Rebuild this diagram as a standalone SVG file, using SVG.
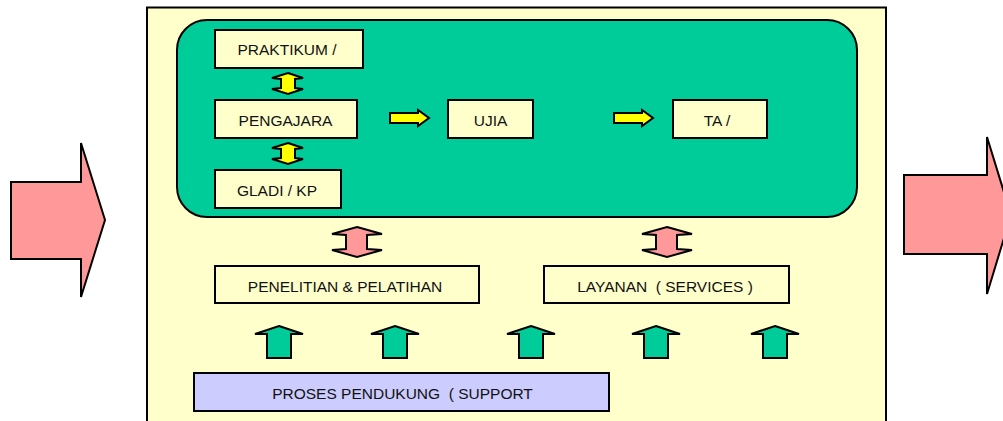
<svg xmlns="http://www.w3.org/2000/svg" width="1003" height="421" viewBox="0 0 1003 421">
<style>
.box{fill:#ffffcc;stroke:#000;stroke-width:2}
.t{font-family:"Liberation Sans",Arial,sans-serif;font-size:15.5px;fill:#111;text-anchor:middle}
.pink{fill:#ff9999;stroke:#000;stroke-width:2;stroke-linejoin:miter}
.yel{fill:#ffff00;stroke:#000;stroke-width:2}
.grn{fill:#00cc99;stroke:#000;stroke-width:2}
</style>
<rect width="1003" height="421" fill="#fff"/>
<g id="panel"><rect x="147" y="7.5" width="739" height="420" fill="#ffffcc" stroke="#000" stroke-width="2"/></g>
<g id="core"><rect x="177" y="20" width="680" height="197" rx="30" fill="#00cc99" stroke="#000" stroke-width="2"/></g>
<g id="input-arrow"><polygon class="pink" points="11,182 81,182 81,143 105,220 81,297 81,259 11,259"/></g>
<g id="output-arrow"><polygon class="pink" points="904,175 987,175 987,137 1011,215 987,294 987,254 904,254"/></g>
<g id="praktikum"><rect class="box" x="215" y="30" width="148" height="38"/><text class="t" x="287" y="55">PRAKTIKUM /</text></g>
<g id="pengajara"><rect class="box" x="215" y="100" width="142" height="38"/><text class="t" x="285.5" y="125.5">PENGAJARA</text></g>
<g id="gladi"><rect class="box" x="215" y="170" width="126" height="38"/><text class="t" x="277" y="195.5">GLADI / KP</text></g>
<g id="ujia"><rect class="box" x="448" y="100" width="85" height="38"/><text class="t" x="490.5" y="125.5">UJIA</text></g>
<g id="ta"><rect class="box" x="673" y="100" width="94" height="38"/><text class="t" x="717" y="125.5">TA /</text></g>
<g id="penelitian"><rect class="box" x="215" y="266" width="264" height="37"/><text class="t" x="345" y="291.5">PENELITIAN &amp; PELATIHAN</text></g>
<g id="layanan"><rect class="box" x="544" y="266" width="245" height="37"/><text class="t" x="665" y="291.5" xml:space="preserve">LAYANAN  ( SERVICES )</text></g>
<g id="proses"><rect x="194" y="373" width="415" height="38" fill="#ccccff" stroke="#000" stroke-width="2"/><text class="t" x="402.5" y="398.5" xml:space="preserve">PROSES PENDUKUNG  ( SUPPORT</text></g>
<g id="connectors">
<polygon class="yel" points="288,73 303,78 295,79 295,88 303,89 288,94 272,89 281,88 281,79 272,78"/>
<polygon class="yel" points="288,143 303,148 295,149 295,158 303,159 288,164 272,159 281,158 281,149 272,148"/>
<polygon class="yel" points="390,113 418,113 418,110 429,118 418,126 418,123 390,123"/>
<polygon class="yel" points="614,113 642,113 642,110 653,118 642,126 642,123 614,123"/>
<polygon class="pink" points="357,227 382,234 367,235 367,249 382,250 357,257 332,250 346,249 346,235 332,234"/>
<polygon class="pink" points="667,227 692,234 677,235 677,249 692,250 667,257 642,250 656,249 656,235 642,234"/>
<polygon class="grn" points="279,326 303,334 291,334 291,358 267,358 267,334 255,334"/>
<polygon class="grn" points="395,326 419,334 407,334 407,358 383,358 383,334 371,334"/>
<polygon class="grn" points="531,326 555,334 543,334 543,358 519,358 519,334 507,334"/>
<polygon class="grn" points="656,326 680,334 668,334 668,358 644,358 644,334 632,334"/>
<polygon class="grn" points="775,326 799,334 787,334 787,358 763,358 763,334 751,334"/>
</g>
</svg>
